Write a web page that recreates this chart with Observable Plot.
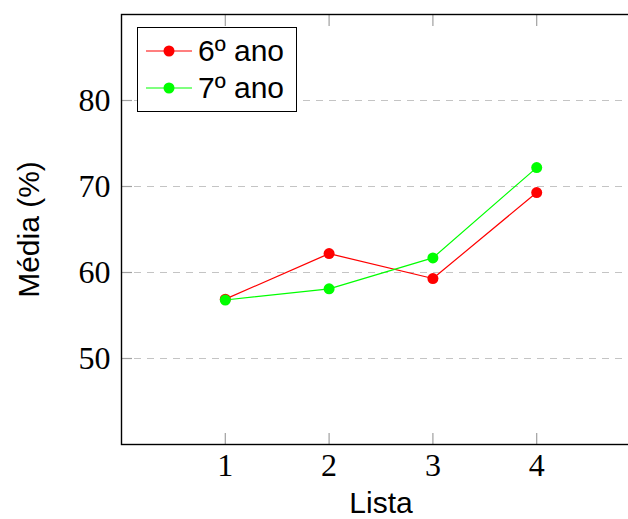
<!DOCTYPE html>
<html><head><meta charset="utf-8">
<script src="https://cdn.jsdelivr.net/npm/d3@7"></script>
<script src="https://cdn.jsdelivr.net/npm/@observablehq/plot@0.6"></script>
<style>
html,body{margin:0;padding:0;background:#fff;overflow:hidden}
#wrap{position:relative;width:628px;height:519px;overflow:hidden}
#wrap svg{overflow:hidden}
#legend{position:absolute;left:137px;top:27px;width:160px;height:85px;border:1px solid #000;background:#fff;box-sizing:border-box;font-family:"Liberation Sans",Arial,sans-serif;font-size:30px;color:#000}
.row{position:absolute;left:0;height:34px;display:flex;align-items:center}
.row svg{display:block}
.row span{margin-left:6px;line-height:34px}
</style>
</head><body>
<div id="wrap"></div>
<script>
const listas = [1, 2, 3, 4];
const ano6 = [56.9, 62.2, 59.3, 69.3];
const ano7 = [56.8, 58.1, 61.7, 72.2];
const seriesNames = ["6º ano", "7º ano"];
const seriesColors = ["#ff0000", "#00ff00"];
const yTicks = [50, 60, 70, 80];
const xLabel = "Lista";
const yLabel = "Média (%)";

const rows = [];
listas.forEach((l, i) => {
  rows.push({lista: l, media: ano6[i], serie: seriesNames[0]});
});
listas.forEach((l, i) => {
  rows.push({lista: l, media: ano7[i], serie: seriesNames[1]});
});

const serif = "'Liberation Serif', 'DejaVu Serif', serif";
const sans = "'Liberation Sans', Arial, sans-serif";
const tickGray = "#a0a0a0";

const marks = [
  Plot.gridY(yTicks, {stroke: "#c4c4c4", strokeOpacity: 1, strokeWidth: 1.2, strokeDasharray: "7,6"}),
  Plot.axisX(listas, {anchor: "bottom", tickSize: -11, tickFormat: () => "", stroke: tickGray, strokeWidth: 1.2, label: null}),
  Plot.axisX(listas, {anchor: "top", tickSize: -11, tickFormat: () => "", stroke: tickGray, strokeWidth: 1.2, label: null}),
  Plot.axisY(yTicks, {anchor: "left", tickSize: -11, tickFormat: () => "", stroke: tickGray, strokeWidth: 1.2, label: null}),
  Plot.axisX(listas, {anchor: "bottom", tickSize: 0, tickPadding: 9, fontSize: 32, fontFamily: serif, fill: "#000", label: null}),
  Plot.axisY(yTicks, {anchor: "left", tickSize: 0, tickPadding: 11, fontSize: 32, fontFamily: serif, fill: "#000", label: null}),
];
seriesNames.forEach((s, k) => {
  const d = rows.filter(r => r.serie === s);
  marks.push(Plot.line(d, {x: "lista", y: "media", stroke: seriesColors[k], strokeWidth: 1.2}));
  marks.push(Plot.dot(d, {x: "lista", y: "media", fill: seriesColors[k], r: 5.5, stroke: "none"}));
});
marks.push(Plot.frame({stroke: "#000", strokeWidth: 1.4}));
marks.push(Plot.text([xLabel], {frameAnchor: "bottom", dy: 68, fontSize: 30, fontFamily: sans, fill: "#000", textAnchor: "middle"}));
marks.push(Plot.text([yLabel], {frameAnchor: "left", dx: -92, rotate: -90, textAnchor: "middle", lineAnchor: "middle", fontSize: 30, fontFamily: sans, fill: "#000"}));

const chart = Plot.plot({
  width: 628,
  height: 519,
  marginLeft: 121,
  marginRight: -12,
  marginTop: 14,
  marginBottom: 75,
  x: {domain: [0, 5]},
  y: {domain: [40, 90]},
  style: {background: "#fff", overflow: "hidden"},
  marks
});
const wrap = document.getElementById("wrap");
wrap.appendChild(chart);

// legend
const legend = document.createElement("div");
legend.id = "legend";
seriesNames.forEach((s, k) => {
  const row = document.createElement("div");
  row.className = "row";
  row.style.top = (k === 0 ? 6 : 43) + "px";
  row.style.left = "8px";
  row.innerHTML = `<svg width="46" height="34"><line x1="0" x2="46" y1="17" y2="17" stroke="${seriesColors[k]}" stroke-width="1.2"/><circle cx="23" cy="17" r="5.5" fill="${seriesColors[k]}"/></svg><span>${s}</span>`;
  legend.appendChild(row);
});
wrap.appendChild(legend);
</script>
</body></html>
